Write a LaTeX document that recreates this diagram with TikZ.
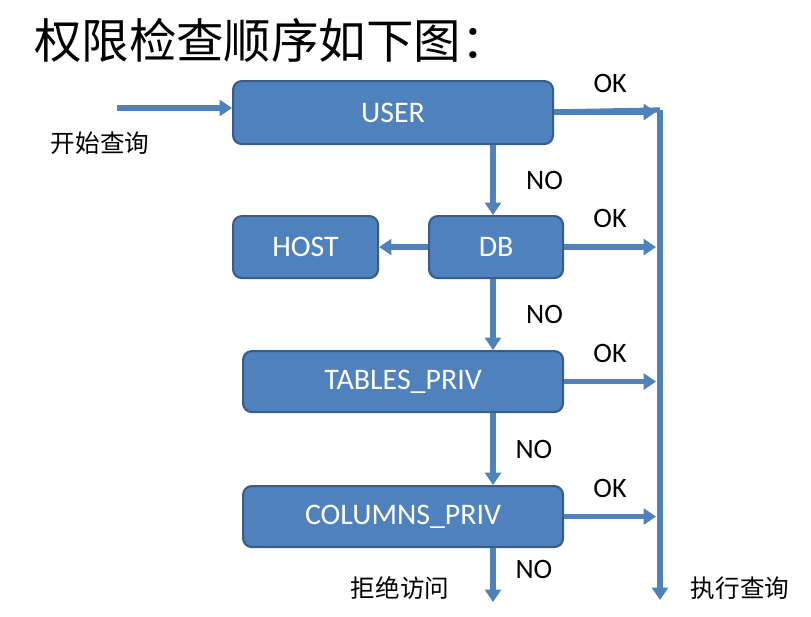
\documentclass[tikz,border=0pt]{standalone}
\usepackage{fontspec}
\setmainfont{Carlito}
\newfontfamily\cjk{Noto Sans CJK SC}
\usetikzlibrary{arrows.meta,positioning}
\definecolor{boxblue}{HTML}{4F81BD}
\definecolor{boxedge}{HTML}{385D8A}
\begin{document}
\begin{tikzpicture}[
		x=0.02cm, y=-0.02cm,
		priv/.style={draw=boxedge, line width=1.2pt, fill=boxblue, rounded corners=5pt,
			text=white, font=\fontsize{17}{20}\selectfont, inner sep=0pt, anchor=north west},
		flow/.style={draw=boxblue, line width=3pt, -{Triangle[length=7pt,width=9pt]}},
		lbl/.style={font=\fontsize{16}{19}\selectfont},
		zh/.style={font=\cjk\fontsize{14}{17}\selectfont}
		]
		\useasboundingbox (0,0) rectangle (811,616);
		
		% Title
		\node[anchor=west, font=\cjk\fontsize{27}{31}\selectfont] (title) at (28,40) {权限检查顺序如下图：};
		
		% Boxes
		\node[priv, minimum width=320*0.02cm, minimum height=63*0.02cm] (user) at (232,80) {USER};
		\node[priv, minimum width=145*0.02cm, minimum height=62*0.02cm] (host) at (232,215) {HOST};
		\node[priv, minimum width=134*0.02cm, minimum height=62*0.02cm] (db) at (428,215) {DB};
		\node[priv, minimum width=320*0.02cm, minimum height=61*0.02cm] (tables) at (242,350) {TABLES\_PRIV};
		\node[priv, minimum width=320*0.02cm, minimum height=61*0.02cm] (columns) at (242,485) {COLUMNS\_PRIV};
		
		% Helper points
		\coordinate (start) at (117,108);
		\coordinate (bartop) at (660,110);
		\coordinate (barend) at (660,600);
		\coordinate (deny) at (493,602);
		
		% Texts
		\node[zh] (begin) at (100,143) {开始查询};
		\node[zh] (denytxt) at (400,588) {拒绝访问};
		\node[zh] (exec) at (740,588) {执行查询};
		
		% Start and main flow
		\draw[flow] (start) -- (user.west |- start);
		\draw[flow] (user.south -| 493,0) -- (db.north -| 493,0) node[lbl, midway, right=14pt] {NO};
		\draw[flow] (db.south -| 493,0) -- (tables.north -| 493,0) node[lbl, midway, right=14pt] {NO};
		\draw[flow] (tables.south -| 493,0) -- (columns.north -| 493,0) node[lbl, midway, right=8pt] {NO};
		\draw[flow] (columns.south -| 493,0) -- (deny) node[lbl, pos=0.4, right=8pt] {NO};
		\draw[flow] (db.west) -- (host.east);
		
		% Right bus
		\draw[draw=boxblue, line width=3pt] (user.east |- 0,112) -- (bartop);
		\draw[flow] (bartop) -- (barend);
		\draw[flow] (user.east |- 0,112) -- (656,112) node[lbl, pos=0.55, above=6pt] {OK};
		\draw[flow] (db.east) -- (db.east -| 656,0) node[lbl, midway, above=6pt] {OK};
		\draw[flow] (tables.east) -- (tables.east -| 656,0) node[lbl, midway, above=6pt] {OK};
		\draw[flow] (columns.east) -- (columns.east -| 656,0) node[lbl, midway, above=6pt] {OK};
		
	\end{tikzpicture}
\end{document}
